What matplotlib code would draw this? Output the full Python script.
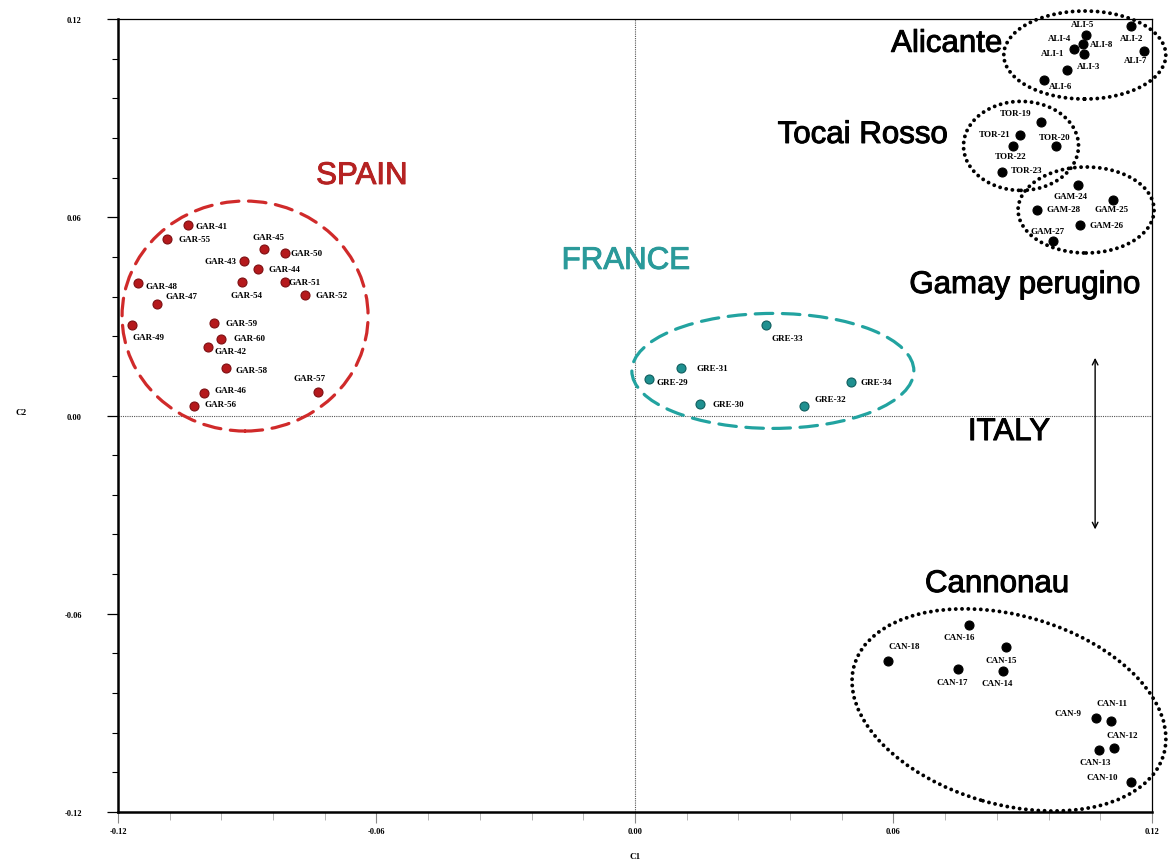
import matplotlib
matplotlib.use("Agg")
import matplotlib.pyplot as plt
import matplotlib.patheffects as pe
from matplotlib.patches import Ellipse
from matplotlib.transforms import ScaledTranslation

# --- scores on the first two components ---
gar_names = ["GAR-41", "GAR-55", "GAR-45", "GAR-50", "GAR-43", "GAR-44", "GAR-54", "GAR-51",
             "GAR-52", "GAR-48", "GAR-47", "GAR-49", "GAR-59", "GAR-60", "GAR-42", "GAR-58",
             "GAR-46", "GAR-56", "GAR-57"]
gar_c1 = [-0.1038, -0.1086, -0.0861, -0.0812, -0.0908, -0.0875, -0.0912, -0.0812,
          -0.0766, -0.1154, -0.1109, -0.1167, -0.0977, -0.0961, -0.0991, -0.0949,
          -0.1000, -0.1024, -0.0736]
gar_c2 = [0.0577, 0.0534, 0.0504, 0.0492, 0.0468, 0.0443, 0.0404, 0.0404,
          0.0365, 0.0401, 0.0338, 0.0274, 0.0280, 0.0232, 0.0207, 0.0144,
          0.0068, 0.0029, 0.0071]

gre_names = ["GRE-33", "GRE-31", "GRE-29", "GRE-30", "GRE-32", "GRE-34"]
gre_c1 = [0.0304, 0.0107, 0.0032, 0.0151, 0.0392, 0.0501]
gre_c2 = [0.0274, 0.0144, 0.0110, 0.0035, 0.0029, 0.0101]

ali_names = ["ALI-5", "ALI-2", "ALI-4", "ALI-1", "ALI-8", "ALI-3", "ALI-6", "ALI-7"]
ali_c1 = [0.1047, 0.1151, 0.1040, 0.1019, 0.1042, 0.1003, 0.0949, 0.1181]
ali_c2 = [0.1152, 0.1179, 0.1125, 0.1109, 0.1094, 0.1046, 0.1016, 0.1103]

tor_names = ["TOR-19", "TOR-21", "TOR-20", "TOR-22", "TOR-23"]
tor_c1 = [0.0942, 0.0894, 0.0977, 0.0877, 0.0852]
tor_c2 = [0.0888, 0.0849, 0.0816, 0.0816, 0.0737]

gam_names = ["GAM-24", "GAM-25", "GAM-28", "GAM-26", "GAM-27"]
gam_c1 = [0.1028, 0.1109, 0.0933, 0.1033, 0.0970]
gam_c2 = [0.0698, 0.0652, 0.0622, 0.0577, 0.0528]

can_names = ["CAN-16", "CAN-18", "CAN-15", "CAN-17", "CAN-14", "CAN-9", "CAN-11",
             "CAN-12", "CAN-13", "CAN-10"]
can_c1 = [0.0775, 0.0587, 0.0861, 0.0750, 0.0854, 0.1070, 0.1105, 0.1112, 0.1077, 0.1151]
can_c2 = [-0.0634, -0.0743, -0.0701, -0.0767, -0.0773, -0.0916, -0.0925, -0.1006, -0.1013, -0.1109]

tick_vals = [-0.12, -0.06, 0.0, 0.06, 0.12]
tick_text = ["-0.12", "-0.06", "0.00", "0.06", "0.12"]

# label offsets (pixels) so the names sit clear of the dots
gar_off = [(24, -1), (27, 0), (4, 12), (21, 0), (-23, 0), (26, 0), (4, -13), (19, 0),
           (27, 0), (24, -3), (24, 8), (16, -12), (28, 0), (29, 1), (22, -4), (25, -2),
           (26, 3), (27, 2), (-8, 14)]
gre_off = [(21, -13), (31, 0), (24, -3), (28, 0), (26, 7), (25, 0)]
ali_off = [(-3, 11), (1, -12), (-24, 6), (-21, -4), (18, 10), (21, 4), (17, -6), (-8, -9)]
tor_off = [(-25, 9), (-26, 1), (-1, 9), (-2, -10), (25, 2)]
gam_off = [(-7, -11), (-1, -9), (27, 1), (26, 0), (-5, 10)]
can_off = [(-10, -12), (16, 15), (-5, -13), (-6, -13), (-6, -12), (-28, 5), (1, 18),
           (8, 13), (-4, -12), (-29, 5)]

red = "#b5191c"
teal = "#1f9090"

fig = plt.figure(figsize=(11.68, 8.62), dpi=100)
ax = fig.add_axes([0.101, 0.0568, 0.8853, 0.920])
ax.set_xlim(-0.12, 0.12)
ax.set_ylim(-0.12, 0.12)

ax.axhline(0, color="#555555", lw=0.8, ls=(0, (1, 1)), zorder=1)
ax.axvline(0, color="#555555", lw=0.8, ls=(0, (1, 1)), zorder=1)

lab_font = dict(family="Liberation Serif", weight="bold", fontsize=6.5)


def group(xs, ys, names, offs, fc, ec):
    ax.scatter(xs, ys, s=42, color=fc, edgecolors=ec, linewidths=0.8, zorder=3)
    for x, y, n, (dx, dy) in zip(xs, ys, names, offs):
        ax.annotate(n, (x, y), xytext=(dx, dy), textcoords="offset pixels",
                    ha="center", va="center", color="black", **lab_font)


group(gar_c1, gar_c2, gar_names, gar_off, red, "#7d0f12")
group(gre_c1, gre_c2, gre_names, gre_off, teal, "#0f5e5e")
group(ali_c1, ali_c2, ali_names, ali_off, "black", "black")
group(tor_c1, tor_c2, tor_names, tor_off, "black", "black")
group(gam_c1, gam_c2, gam_names, gam_off, "black", "black")
group(can_c1, can_c2, can_names, can_off, "black", "black")


def ring(cx, cy, w_px, h_px, color, style, lw, angle=0):
    tr = fig.dpi_scale_trans + ScaledTranslation(cx, cy, ax.transData)
    e = Ellipse((0, 0), w_px / 100, h_px / 100, angle=angle, transform=tr,
                fill=False, edgecolor=color, lw=lw, ls=style, clip_on=False, zorder=2)
    e.set_capstyle("round" if style != "--" else "butt")
    ax.add_patch(e)


dash = (0, (5.5, 3))
dots = (0, (0.01, 1.6))
ring(-0.0905, 0.0301, 246, 230, "#d02a2a", dash, 2.3)
ring(0.0320, 0.0135, 282, 115, "#22a3a0", dash, 2.3)
ring(0.1044, 0.1091, 162, 88, "black", dots, 2.8)
ring(0.0896, 0.0816, 115, 89, "black", dots, 2.8)
ring(0.1047, 0.0622, 136, 86, "black", dots, 2.8)
ring(0.0868, -0.0891, 322, 189, "black", dots, 2.8, angle=-16)


def title(x, y, s, color):
    ax.text(x, y, s, color=color, family="Liberation Sans", fontsize=22.5,
            ha="center", va="center",
            path_effects=[pe.withStroke(linewidth=0.7, foreground=color)])


title(0.0724, 0.1125, "Alicante", "black")
title(0.0529, 0.0849, "Tocai Rosso", "black")
title(0.0905, 0.0395, "Gamay perugino", "black")
title(0.0868, -0.0050, "ITALY", "black")
title(0.0840, -0.0510, "Cannonau", "black")
title(-0.0634, 0.0725, "SPAIN", "#b52222")
title(-0.0021, 0.0468, "FRANCE", "#2a9a9a")

ax.annotate("", xy=(0.1068, 0.0183), xytext=(0.1068, -0.0353),
            arrowprops=dict(arrowstyle="<->", color="black", lw=1, mutation_scale=10))

# axes and ticks
for s in ["left", "bottom"]:
    ax.spines[s].set_linewidth(1.8)
for s in ["top", "right"]:
    ax.spines[s].set_linewidth(0.9)

ax.set_xticks(tick_vals)
ax.set_xticklabels(tick_text)
ax.set_yticks(tick_vals)
ax.set_yticklabels(tick_text)
ax.set_xticks([-0.12 + 0.012 * i for i in range(21)], minor=True)
ax.set_yticks([-0.12 + 0.012 * i for i in range(21)], minor=True)
ax.tick_params(axis="x", which="major", length=8, width=0.8, color="#888888", pad=3)
ax.tick_params(axis="x", which="minor", length=6, width=0.6, color="#aaaaaa")
ax.tick_params(axis="y", which="major", length=8, width=0.9, color="black", pad=18)
ax.tick_params(axis="y", which="minor", length=4.5, width=0.8, color="black")
for t in ax.get_xticklabels() + ax.get_yticklabels():
    t.set_fontfamily("Liberation Serif")
    t.set_fontweight("bold")
    t.set_fontsize(6)

ax.set_xlabel("C1", fontfamily="Liberation Serif", fontweight="bold", fontsize=6.5, labelpad=12)
ax.set_ylabel("C2", fontfamily="Liberation Serif", fontweight="bold", fontsize=6.5,
              rotation=0, labelpad=0)
ax.yaxis.set_label_coords(-0.094, 0.5)

fig.savefig("out.png", dpi=100)
